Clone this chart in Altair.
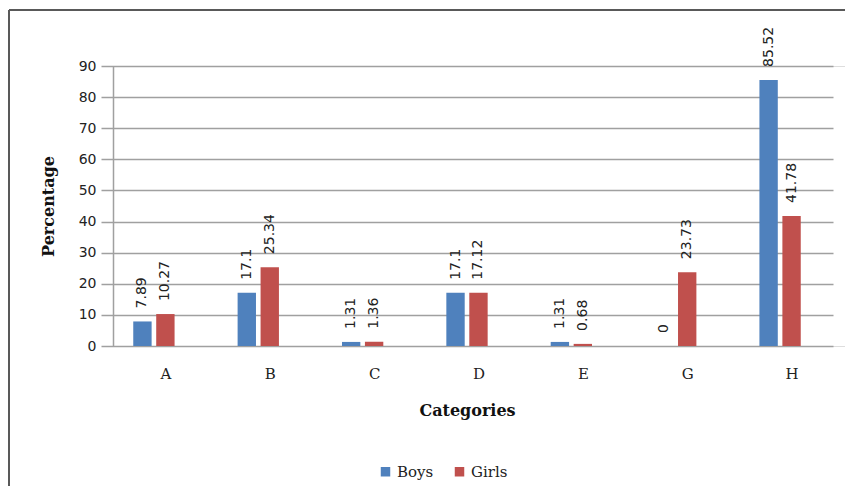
import altair as alt
import pandas as pd

categories = ["A", "B", "C", "D", "E", "G", "H"]
boys = [7.89, 17.1, 1.31, 17.1, 1.31, 0, 85.52]
girls = [10.27, 25.34, 1.36, 17.12, 0.68, 23.73, 41.78]
series = ["Boys", "Girls"]
colors = ["#4F81BD", "#C0504D"]
y_ticks = list(range(0, 100, 10))

rows = []
for c, b, g in zip(categories, boys, girls):
    rows.append({"Category": c, "Series": "Boys", "Value": b, "Label": f"{b:g}"})
    rows.append({"Category": c, "Series": "Girls", "Value": g, "Label": f"{g:g}"})
df = pd.DataFrame(rows)

W, H = 732, 280
PAD_L, PAD_T, PAD_R, PAD_B = 105, 58, 0, 140

x_enc = alt.X(
    "Category:N",
    sort=categories,
    scale=alt.Scale(range=[-12, W - 12], paddingInner=0.604, paddingOuter=0.309),
    axis=alt.Axis(
        title="Categories",
        labelAngle=0,
        labelOffset=12,
        labelFont="DejaVu Serif",
        labelFontSize=15,
        labelColor="#222222",
        labelPadding=20,
        ticks=False,
        tickSize=0,
        domain=False,
        grid=False,
        titleFont="DejaVu Serif",
        titleFontSize=16,
        titleFontWeight="bold",
        titleColor="#111111",
        titlePadding=21,
    ),
)
xoff = alt.XOffset("Series:N", sort=series, scale=alt.Scale(paddingInner=0.2, paddingOuter=0))
y_enc = alt.Y(
    "Value:Q",
    scale=alt.Scale(domain=[0, 90], nice=False, zero=True),
    axis=alt.Axis(
        title="Percentage",
        values=y_ticks,
        labelOverlap=False,
        labelFont="DejaVu Sans",
        labelFontSize=14,
        labelColor="#222222",
        labelPadding=17,
        ticks=False,
        tickSize=0,
        domainColor="#A0A0A0",
        domainWidth=1.5,
        gridColor="#A0A0A0",
        gridWidth=1.5,
        titleFont="DejaVu Serif",
        titleFontSize=16,
        titleFontWeight="bold",
        titleColor="#111111",
        titlePadding=22,
    ),
)

bars = alt.Chart(df).mark_bar().encode(
    x=x_enc,
    xOffset=xoff,
    y=y_enc,
    color=alt.Color(
        "Series:N",
        sort=series,
        scale=alt.Scale(domain=series, range=colors),
        legend=alt.Legend(
            title=None,
            orient="none",
            direction="horizontal",
            legendX=265,
            legendY=398,
            symbolType="square",
            symbolSize=90,
            symbolStrokeWidth=0,
            labelFont="DejaVu Serif",
            labelFontSize=15,
            labelColor="#222222",
            labelOffset=4,
            columnPadding=18,
            padding=0,
        ),
    ),
)

labels = alt.Chart(df).mark_text(
    angle=270, align="left", baseline="middle", dx=13,
    font="DejaVu Sans", fontSize=14, color="#222222",
).encode(
    x=x_enc,
    xOffset=xoff,
    y=y_enc,
    text="Label:N",
)

frame_df = pd.DataFrame({"f": [0]})
frame_top = alt.Chart(frame_df).mark_rule(color="#595959", strokeWidth=2).encode(
    x=alt.value(-104), x2=alt.value(W + PAD_R), y=alt.value(-56),
)
frame_left = alt.Chart(frame_df).mark_rule(color="#595959", strokeWidth=2).encode(
    x=alt.value(-104), y=alt.value(-56), y2=alt.value(H + PAD_B),
)

chart = alt.layer(frame_top, frame_left, bars, labels).properties(
    width=W, height=H,
    autosize=alt.AutoSizeParams(type="none"),
    padding={"left": PAD_L, "top": PAD_T, "right": PAD_R, "bottom": PAD_B},
).configure_view(stroke=None).configure(background="white")

chart.save("out.html", embed_options={"renderer": "svg", "actions": False})
